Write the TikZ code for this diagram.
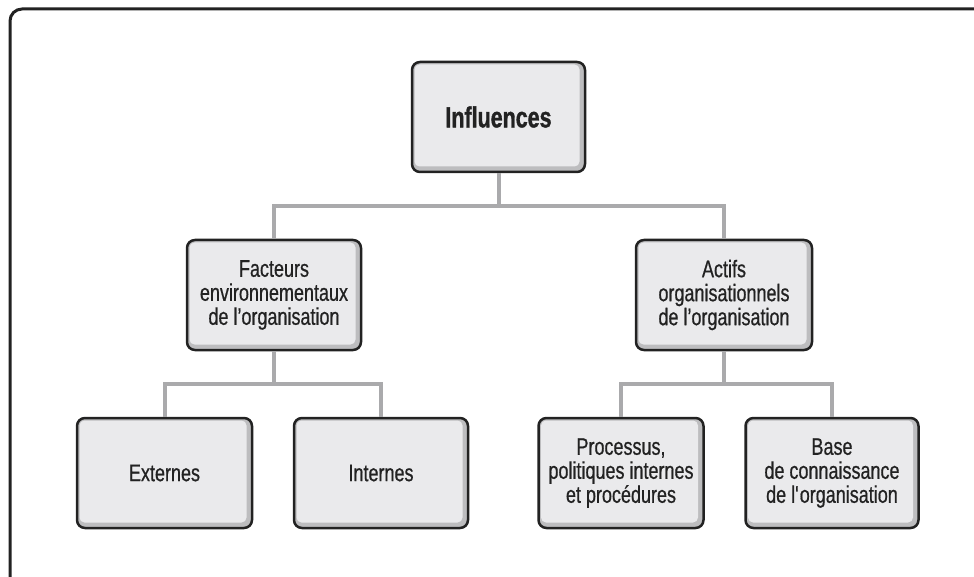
\documentclass[tikz,border=0pt]{standalone}
\usepackage{fontspec}
\setmainfont{Liberation Sans}[FakeStretch=0.75, FakeBold=0.6]
\newfontfamily\headfont{Liberation Sans}[FakeStretch=0.74, FakeBold=1.2]
\usetikzlibrary{positioning}
\definecolor{boxface}{HTML}{EAEAEC}
\definecolor{boxband}{HTML}{BDBDBF}
\definecolor{linkgray}{HTML}{AAAAAC}
\definecolor{ink}{HTML}{222222}
\begin{document}
\begin{tikzpicture}[x=1pt,y=-1pt,
  card/.style={draw=ink, line width=2.5pt, fill=boxband, rounded corners=8pt,
    inner sep=0pt, align=center, text=ink,
    font=\fontsize{24}{24}\selectfont,
    path picture={\fill[boxface, rounded corners=5pt]
      ([xshift=2.5pt,yshift=-2.5pt]path picture bounding box.north west) rectangle
      ([xshift=-5.5pt,yshift=5.5pt]path picture bounding box.south east);}},
  link/.style={draw=linkgray, line width=4pt}]
\useasboundingbox (0,0) rectangle (974,577);
% outer frame (open to the right and bottom)
\draw[ink, line width=3pt, rounded corners=12pt] (10,580) -- (10,9) -- (980,9);

% boxes
\node[card, minimum width=173pt, minimum height=110pt, font=\fontsize{29}{30}\headfont\bfseries]
  (inf) at (498.5,117) {Influences};
\node[card, minimum width=174pt, minimum height=110pt] (fac) at (274,295)
  {Facteurs\\environnementaux\\de l’organisation};
\node[card, minimum width=176pt, minimum height=110pt] (act) at (724,295)
  {Actifs\\organisationnels\\de l’organisation};
\node[card, minimum width=175pt, minimum height=110pt] (ext) at (164.5,473) {Externes};
\node[card, minimum width=174pt, minimum height=110pt] (int) at (381,473) {Internes};
\node[card, minimum width=165pt, minimum height=110pt] (pro) at (621,473)
  {Processus,\\politiques internes\\et procédures};
\node[card, minimum width=173pt, minimum height=110pt] (bas) at (832,473)
  {Base\\de connaissance\\de l\textquotesingle organisation};

% connectors
\coordinate (j1) at (498.5,206);
\coordinate (j2) at (274,384);
\coordinate (j3) at (724,384);
\draw[link] (inf.south) -- (j1);
\draw[link] (fac.north) |- (j1) -| (act.north);
\draw[link] (fac.south) -- (j2);
\draw[link] (ext.north) |- (j2) -| (int.north);
\draw[link] (act.south) -- (j3);
\draw[link] (pro.north) |- (j3) -| (bas.north);
\end{tikzpicture}
\end{document}
